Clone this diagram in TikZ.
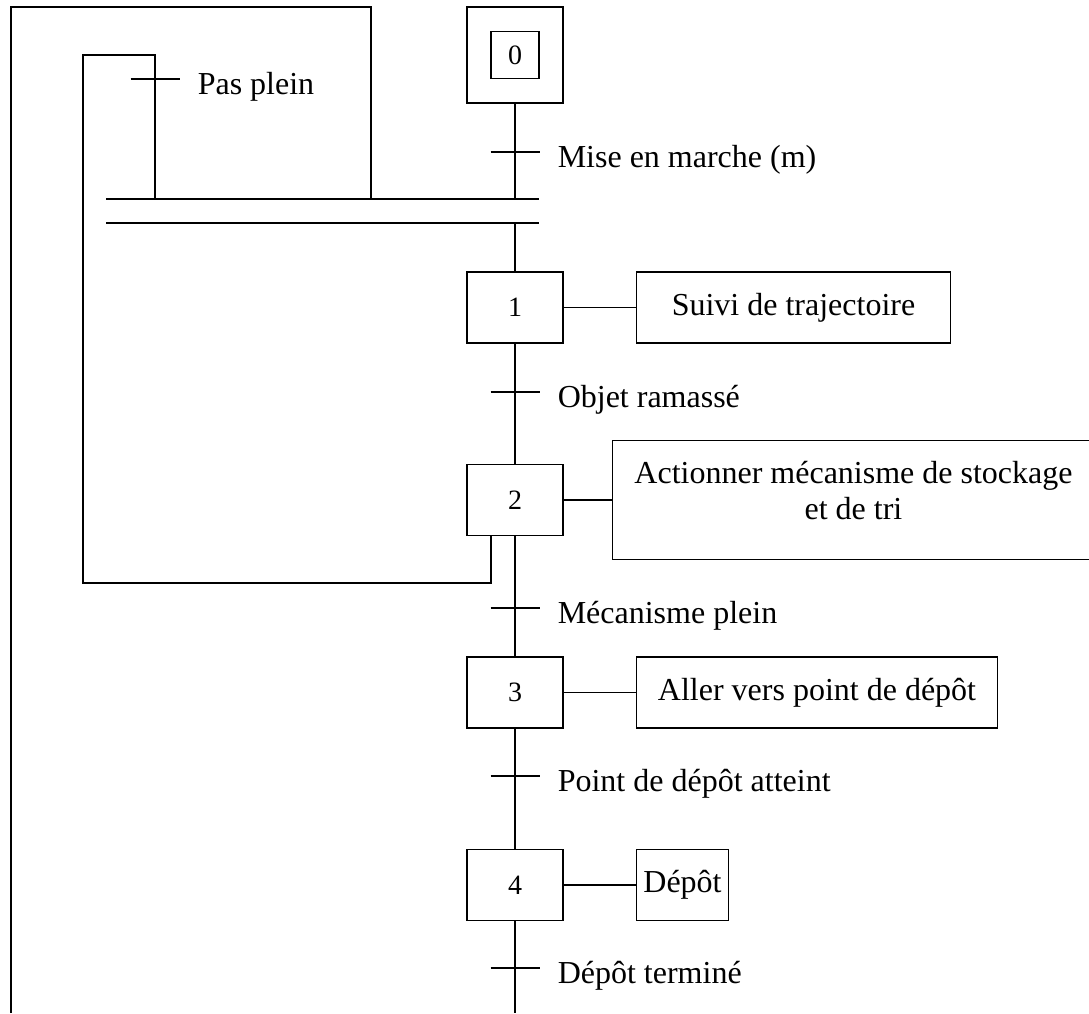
\documentclass[tikz,border=0pt]{standalone}
\usepackage{fontspec}
\setmainfont{Liberation Serif}
\usetikzlibrary{positioning, calc}
\newcommand{\numfont}{\fontsize{28pt}{32pt}\selectfont}
\newcommand{\txtfont}{\fontsize{32pt}{36pt}\selectfont}

\begin{document}
\begin{tikzpicture}[
  x=1pt, y=-1pt,
  node distance=120pt and 72pt,
  line width=1.5pt,
  etape/.style ={draw, inner sep=0pt, minimum width=96pt, minimum height=71pt,
                 font=\numfont},
  action/.style={draw, inner sep=0pt, minimum height=71pt, align=center,
                 font=\txtfont},
  lbl/.style   ={inner sep=0pt, anchor=base west, font=\txtfont}
]
\useasboundingbox (0,0) rectangle (1089,1013);

% steps on the main axis
\node[etape, minimum size=96pt] (e0) at (515,55) {};
\node[etape, minimum width=48pt, minimum height=47pt] (e0in) at (e0) {0};
\node[etape] (e1) at (515,307.5) {1};
\node[etape, below=of e1] (e2) {2};
\node[etape, below=of e2] (e3) {3};
\node[etape, below=of e3] (e4) {4};

% actions
\node[action, minimum width=314pt, right=of e1] (a1) {Suivi de trajectoire};
\node[action, minimum width=482pt, minimum height=119pt, text depth=20pt,
      right=48pt of e2] (a2) {Actionner mécanisme de stockage\\et de tri};
\node[action, minimum width=361pt, right=of e3] (a3) {Aller vers point de dépôt};
\node[action, minimum width=92pt, right=of e4] (a4) {Dépôt};

\foreach \e/\a in {e1/a1, e2/a2, e3/a3, e4/a4}
  \draw (\e) -- (\a);

% double bar under step 0
\coordinate (bh) at (515,199);
\coordinate (bb) at (515,223);
\coordinate (bhL) at (106,199);
\coordinate (bhR) at (539,199);
\coordinate (bbL) at (106,223);
\coordinate (bbR) at (539,223);
\draw (bhL) -- (bhR);
\draw (bbL) -- (bbR);

\coordinate (fin) at (515,1013);
\draw (e0) -- (bh);
\draw (bb) -- (e1);
\draw (e1) -- (e2) -- (e3) -- (e4) -- (fin);

% return loops
\coordinate (o1) at (11,1013);
\coordinate (o2) at (371,7);
\coordinate (o3) at (371,199);
\draw (o1) |- (o2) -- (o3);

\coordinate (r2) at (83,583);
\coordinate (r3) at (155,55);
\coordinate (r4) at (155,199);
\draw ([xshift=-24pt]e2.south) |- (r2) |- (r3) -- (r4);

% transitions
\coordinate (t0) at (515,152);
\coordinate (t1) at (515,392);
\coordinate (t2) at (515,608);
\coordinate (t3) at (515,776);
\coordinate (t4) at (515,968);
\coordinate (tp) at (155,79);
\foreach \t in {t0, t1, t2, t3, t4, tp}
  \draw ([xshift=-24.5pt]\t) -- ([xshift=24.5pt]\t);

\node[lbl] (l0) at ([xshift=42pt, yshift=-15pt]t0) {Mise en marche (m)};
\node[lbl] (l1) at ([xshift=42pt, yshift=-15pt]t1) {Objet ramassé};
\node[lbl] (l2) at ([xshift=42pt, yshift=-15pt]t2) {Mécanisme plein};
\node[lbl] (l3) at ([xshift=42pt, yshift=-15pt]t3) {Point de dépôt atteint};
\node[lbl] (l4) at ([xshift=42pt, yshift=-15pt]t4) {Dépôt terminé};
\node[lbl] (lp) at ([xshift=42pt, yshift=-15pt]tp) {Pas plein};

\end{tikzpicture}
\end{document}
